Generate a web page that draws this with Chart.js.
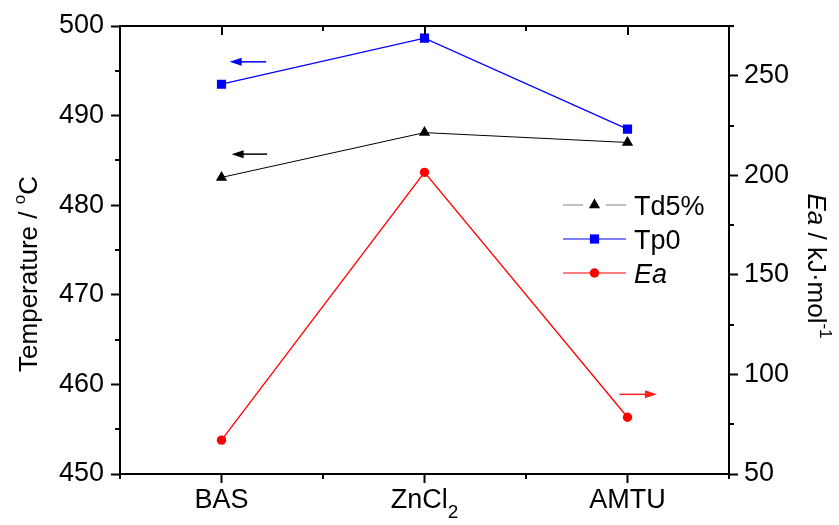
<!DOCTYPE html>
<html>
<head>
<meta charset="utf-8">
<script src="https://cdn.jsdelivr.net/npm/chart.js@4/dist/chart.umd.min.js"></script>
<style>
html, body { margin: 0; padding: 0; background: #fff; }
</style>
</head>
<body>
<canvas id="thermal" width="839" height="525"></canvas>
<script>
var categories = ['BAS', 'ZnCl2', 'AMTU'];
var td5 = [483.1, 488.1, 487.0];
var tp0 = [493.5, 498.65, 488.5];
var ea = [67, 201.5, 78.5];

var tempTicks = [450, 460, 470, 480, 490, 500];
var tempMinor = [455, 465, 475, 485, 495];
var eaTicks = [50, 100, 150, 200, 250];
var eaMinor = [75, 125, 175, 225, 275];

// arrows pointing to the axis each series belongs to
var arrows = [
    { axis: 'y', value: 496, from: 0.22, to: 0.04, color: '#0000ff' },
    { axis: 'y', value: 485.7, from: 0.225, to: 0.05, color: '#000000' },
    { axis: 'y1', value: 90, from: 1.96, to: 2.145, color: '#ff2020' }
];

var FONT = "'Liberation Sans', Arial, Helvetica, sans-serif";
Chart.defaults.font.family = FONT;
Chart.defaults.color = '#000';

// draws text with a trailing sub/superscript part, returns width
function richText(ctx, parts, x, y, measureOnly) {
    var w = 0;
    parts.forEach(function (p) {
        ctx.font = (p.italic ? 'italic ' : '') + p.size + 'px ' + FONT;
        if (!measureOnly) ctx.fillText(p.text, x + w, y - (p.rise || 0));
        w += ctx.measureText(p.text).width;
    });
    return w;
}

function marker(ctx, style, x, y, color) {
    ctx.fillStyle = color;
    ctx.beginPath();
    if (style === 'triangle') {
        var r = 6.5;
        ctx.moveTo(x, y - r);
        ctx.lineTo(x + r * 0.866, y + r * 0.5);
        ctx.lineTo(x - r * 0.866, y + r * 0.5);
        ctx.closePath();
    } else if (style === 'rect') {
        ctx.rect(x - 4.6, y - 4.6, 9.2, 9.2);
    } else {
        ctx.arc(x, y, 4.7, 0, Math.PI * 2);
    }
    ctx.fill();
}

var decorations = {
    id: 'decorations',
    afterDraw: function (chart) {
        var c = chart.ctx;
        var a = chart.chartArea;
        var xs = chart.scales.x, ys = chart.scales.y, ys1 = chart.scales.y1;
        c.save();
        c.strokeStyle = '#000';
        c.lineWidth = 2;

        // top frame and its inward ticks
        c.beginPath();
        c.moveTo(a.left - 1, a.top);
        c.lineTo(a.right + 1, a.top);
        categories.forEach(function (cat, i) {
            var px = Math.round(xs.getPixelForValue(i));
            c.moveTo(px, a.top);
            c.lineTo(px, a.top + 9);
        });
        for (var i = 0; i <= categories.length; i++) {
            var bx = Math.round(xs.getPixelForValue(i - 0.5));
            c.moveTo(bx, a.top);
            c.lineTo(bx, a.top + 5);
            c.moveTo(bx, a.bottom);
            c.lineTo(bx, a.bottom + 5);
        }
        tempMinor.forEach(function (v) {
            var py = Math.round(ys.getPixelForValue(v));
            c.moveTo(a.left, py);
            c.lineTo(a.left - 5, py);
        });
        eaMinor.forEach(function (v) {
            var py = Math.round(ys1.getPixelForValue(v));
            c.moveTo(a.right, py);
            c.lineTo(a.right + 5, py);
        });
        c.stroke();

        // arrows
        arrows.forEach(function (ar) {
            var sc = chart.scales[ar.axis];
            var py = sc.getPixelForValue(ar.value);
            var x1 = xs.getPixelForValue(ar.from);
            var x2 = xs.getPixelForValue(ar.to);
            var dir = x2 > x1 ? 1 : -1;
            c.strokeStyle = ar.color;
            c.fillStyle = ar.color;
            c.lineWidth = 1.5;
            c.beginPath();
            c.moveTo(x1, py);
            c.lineTo(x2 - dir * 10, py);
            c.stroke();
            c.beginPath();
            c.moveTo(x2, py);
            c.lineTo(x2 - dir * 12, py - 4);
            c.lineTo(x2 - dir * 12, py + 4);
            c.closePath();
            c.fill();
        });

        // category labels (ZnCl2 with subscript)
        c.fillStyle = '#000';
        c.textBaseline = 'alphabetic';
        c.textAlign = 'left';
        categories.forEach(function (cat, i) {
            var m = cat.match(/^(.*?)(\d*)$/);
            var parts = [{ text: m[1], size: 27 }];
            if (m[2]) parts.push({ text: m[2], size: 19, rise: -10 });
            var w = richText(c, parts, 0, 0, true);
            richText(c, parts, xs.getPixelForValue(i) - w / 2, 508);
        });

        // left axis title
        var lt = [
            { text: 'Temperature / ', size: 26 },
            { text: 'o', size: 17, rise: 12 },
            { text: 'C', size: 26 }
        ];
        c.save();
        c.translate(37, 274);
        c.rotate(-Math.PI / 2);
        var lw = richText(c, lt, 0, 0, true);
        richText(c, lt, -lw / 2, 0);
        c.restore();

        // right axis title
        var rt = [
            { text: 'Ea', size: 26, italic: true },
            { text: ' / kJ\u00b7mol', size: 26 },
            { text: '-1', size: 17, rise: 12 }
        ];
        c.save();
        c.translate(808, 266);
        c.rotate(Math.PI / 2);
        var rw = richText(c, rt, 0, 0, true);
        richText(c, rt, -rw / 2, 0);
        c.restore();

        // legend
        var rows = [
            { label: 'Td5%', style: 'triangle', color: '#000', line: '#808080', gap: true },
            { label: 'Tp0', style: 'rect', color: '#0000ff', line: '#0000ff' },
            { label: 'Ea', style: 'circle', color: '#ff0000', line: '#ff0000', italic: true }
        ];
        rows.forEach(function (r, k) {
            var ry = 205 + k * 34;
            c.strokeStyle = r.line;
            c.lineWidth = 1.2;
            c.beginPath();
            if (r.gap) {
                c.moveTo(563, ry); c.lineTo(583, ry);
                c.moveTo(606, ry); c.lineTo(626, ry);
            } else {
                c.moveTo(563, ry); c.lineTo(626, ry);
            }
            c.stroke();
            marker(c, r.style, 594.5, ry, r.color);
            c.fillStyle = '#000';
            richText(c, [{ text: r.label, size: 27, italic: r.italic }], 634, ry + 9.6);
        });
        c.restore();
    }
};

var ctx = document.getElementById('thermal');
var thermal = new Chart(ctx, {
    type: 'line',
    data: {
        labels: categories,
        datasets: [{
            label: 'Td5%',
            data: td5,
            yAxisID: 'y',
            borderColor: '#000000',
            borderWidth: 1,
            pointStyle: 'triangle',
            pointRadius: 6.5,
            pointBackgroundColor: '#000000',
            pointBorderWidth: 0
        }, {
            label: 'Tp0',
            data: tp0,
            yAxisID: 'y',
            borderColor: '#0000ff',
            borderWidth: 1.3,
            pointStyle: 'rect',
            pointRadius: 6.5,
            pointBackgroundColor: '#0000ff',
            pointBorderWidth: 0
        }, {
            label: 'Ea',
            data: ea,
            yAxisID: 'y1',
            borderColor: '#ff0000',
            borderWidth: 1.3,
            pointStyle: 'circle',
            pointRadius: 4.7,
            pointBackgroundColor: '#ff0000',
            pointBorderWidth: 0
        }]
    },

    options: {
        responsive: false,
        animation: false,
        layout: { padding: { top: 26, left: 0, right: 0, bottom: 0 } },
        plugins: {
            legend: { display: false },
            tooltip: { enabled: false }
        },
        scales: {
            x: {
                type: 'category',
                offset: true,
                grid: { drawOnChartArea: false, offset: false, tickLength: 9, tickWidth: 2, tickColor: '#000' },
                border: { display: true, width: 2, color: '#000' },
                ticks: { display: false },
                afterFit: function (s) { s.height = 51; }
            },
            y: {
                position: 'left',
                min: 450,
                max: 500,
                afterBuildTicks: function (s) { s.ticks = tempTicks.map(function (v) { return { value: v }; }); },
                grid: { drawOnChartArea: false, tickLength: 9, tickWidth: 2, tickColor: '#000' },
                border: { display: true, width: 2, color: '#000' },
                ticks: { font: { size: 27 }, padding: 7, color: '#000' },
                afterFit: function (s) { s.width = 120; }
            },
            y1: {
                position: 'right',
                min: 50,
                max: 275,
                afterBuildTicks: function (s) { s.ticks = eaTicks.map(function (v) { return { value: v }; }); },
                grid: { drawOnChartArea: false, tickLength: 9, tickWidth: 2, tickColor: '#000' },
                border: { display: true, width: 2, color: '#000' },
                ticks: { font: { size: 27 }, padding: 6, color: '#000' },
                afterFit: function (s) { s.width = 110; }
            }
        }
    },
    plugins: [decorations]
});
</script>
</body>
</html>
